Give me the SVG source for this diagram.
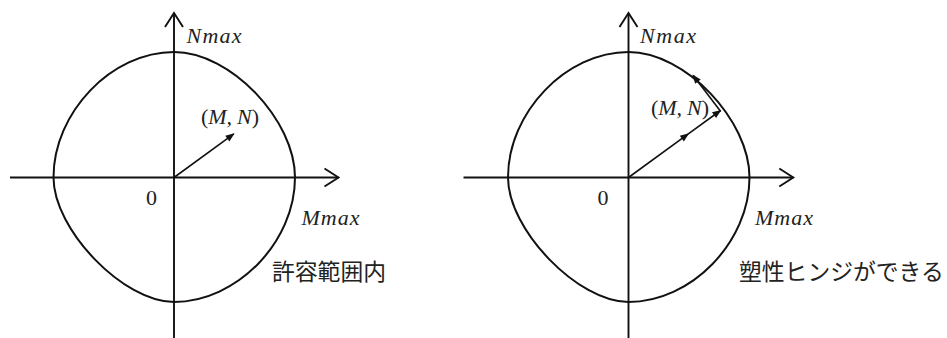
<svg xmlns="http://www.w3.org/2000/svg" width="947" height="338" viewBox="0 0 947 338">
<style>
.ax{fill:none;stroke:#111;stroke-width:1.9}
.cv{fill:none;stroke:#111;stroke-width:2}
.vec{fill:none;stroke:#111;stroke-width:1.6}
.m{font-family:"Liberation Serif","DejaVu Serif",serif;font-size:22px;font-style:italic;fill:#222}
.n{font-family:"Liberation Serif","DejaVu Serif",serif;font-size:22px;fill:#222}
.up{font-style:normal}
.jp{font-family:"Noto Sans CJK JP","Noto Sans",sans-serif;font-size:22.8px;fill:#222}
</style>
<defs>
<marker id="chev" markerUnits="userSpaceOnUse" markerWidth="30" markerHeight="30" refX="0" refY="0" orient="auto" overflow="visible">
<path d="M-14,-9 L0,0 L-14,9" fill="none" stroke="#111" stroke-width="1.9"/>
</marker>
<marker id="tri" markerUnits="userSpaceOnUse" markerWidth="20" markerHeight="20" refX="0" refY="0" orient="auto" overflow="visible">
<path d="M1,0 L-8,-3.5 L-8,3.5 Z" fill="#111"/>
</marker>
<path id="curve" d="M174,52 C231.1,52 295,120.4 295,177.5 C295,242 236.7,302 174,302 C123.5,302 53.5,229.7 53.5,177.5 C53.5,112.5 111.6,52 174,52 Z"/>
</defs>

<g id="left-diagram">
<g id="left-connectors">
<line class="ax" x1="10" y1="177.5" x2="338.5" y2="177.5" marker-end="url(#chev)"/>
<line class="ax" x1="174" y1="338" x2="174" y2="13" marker-end="url(#chev)"/>
<path class="vec" d="M174,177.5 L233.8,133.9" marker-end="url(#tri)"/>
</g>
<g id="left-curve"><use href="#curve" class="cv"/></g>
<g id="left-labels">
<text class="m" x="186.5" y="42.7" textLength="55">Nmax</text>
<text class="m" x="301.5" y="225" textLength="58">Mmax</text>
<text class="n" x="146" y="205">0</text>
<text class="m" x="201" y="124" textLength="58"><tspan class="up">(</tspan>M, N<tspan class="up">)</tspan></text>
<text class="jp" x="272" y="280">許容範囲内</text>
</g>
</g>

<g id="right-diagram">
<g id="right-connectors" transform="translate(454.5,0)">
<line class="ax" x1="9" y1="177.5" x2="338.8" y2="177.5" marker-end="url(#chev)"/>
<line class="ax" x1="174" y1="338" x2="174" y2="13" marker-end="url(#chev)"/>
<path class="vec" d="M174,177.5 L233.8,133.9 L266,110.5" marker-mid="url(#tri)" marker-end="url(#tri)"/>
<path class="vec" d="M266.2,111.6 L238.6,75.2" marker-end="url(#tri)"/>
</g>
<g id="right-curve" transform="translate(454.5,0)"><use href="#curve" class="cv"/></g>
<g id="right-labels">
<text class="m" x="640" y="42.7" textLength="56">Nmax</text>
<text class="m" x="755" y="225" textLength="58">Mmax</text>
<text class="n" x="597.5" y="205">0</text>
<text class="m" x="651" y="115" textLength="58"><tspan class="up">(</tspan>M, N<tspan class="up">)</tspan></text>
<text class="jp" x="739" y="280">塑性ヒンジができる</text>
</g>
</g>
</svg>
